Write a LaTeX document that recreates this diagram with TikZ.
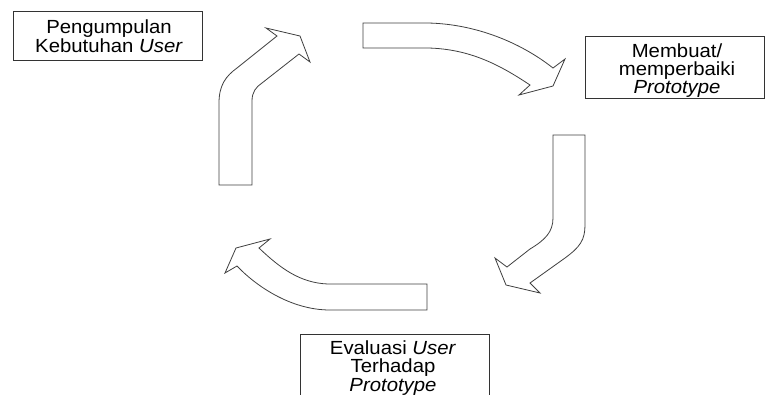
\documentclass[tikz,border=0pt]{standalone}
\usepackage{fontspec}
\setmainfont{Liberation Sans}[FakeStretch=1.07]
\begin{document}
\begin{tikzpicture}[x=1pt,y=-1pt,
  stagebox/.style={draw=black!80,line width=0.8pt,rectangle,inner sep=0pt},
  stagetext/.style={align=center,inner sep=0pt,anchor=north,
    font=\fontsize{19}{18.3}\selectfont},
  blockarrow/.style={draw=black!75,line width=0.8pt,fill=white,line join=miter}]
\useasboundingbox (0,0) rectangle (765,394);
\clip (0,0) rectangle (765,394);

% stage boxes
\node[stagebox,minimum width=189pt,minimum height=49.5pt] (b1) at (107.5,35.75) {};
\node[stagebox,minimum width=179pt,minimum height=62pt] (b2) at (674.5,67) {};
\node[stagebox,minimum width=189pt,minimum height=70pt] (b3) at (394.5,369) {};

% stage labels
\node[stagetext] (t1) at (109,20) {Pengumpulan\\Kebutuhan \textit{User}};
\node[stagetext] (t2) at (677,43.3) {Membuat/\\memperbaiki\\\textit{Prototype}};
\node[stagetext] (t3) at (393,340.7) {Evaluasi \textit{User}\\Terhadap\\\textit{Prototype}};

% left arrow: up, then bending to the upper right
\draw[blockarrow] (219,185) -- (219,103)
  .. controls (219,85) and (226,76) .. (237,68) -- (277,36)
  -- (266,28) -- (300,36) -- (310,62) -- (299,54) -- (262,83)
  .. controls (256,87) and (252,92) .. (252,101) -- (252,185) -- cycle;

% top arrow: right, then bending down
\draw[blockarrow] (363,23) -- (428,23)
  .. controls (475,24) and (520,42) .. (553,68)
  -- (565,59) -- (553,86) -- (519,95) -- (530,85)
  .. controls (500,65) and (470,49) .. (428,48) -- (363,48) -- cycle;

% right arrow: down, then bending to the lower left
\draw[blockarrow] (553,135) -- (553,218)
  .. controls (553,232) and (545,240) .. (530,249) -- (507,267)
  -- (495,258) -- (506,285) -- (540,293) -- (530,283) -- (565,258)
  .. controls (580,247) and (585,240) .. (585,225) -- (585,135) -- cycle;

% bottom arrow: left, then bending up
\draw[blockarrow] (427,284) -- (328,284)
  .. controls (300,283) and (280,268) .. (259,248)
  -- (270,239) -- (236,248) -- (225,273) -- (237,266)
  .. controls (255,285) and (290,310) .. (330,310) -- (427,310) -- cycle;
\end{tikzpicture}
\end{document}
